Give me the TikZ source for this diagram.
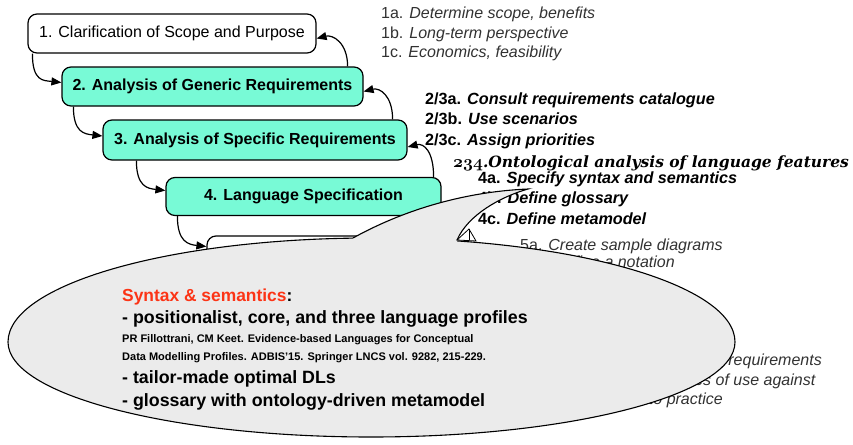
\documentclass[tikz,border=0pt]{standalone}
\usepackage{fontspec}
\setmainfont{Liberation Sans}
\newfontfamily\ontofont{DejaVu Serif}
\usetikzlibrary{arrows.meta,calc}
\definecolor{stepcyan}{RGB}{120,250,214}
\definecolor{bubblegray}{RGB}{235,235,235}
\definecolor{notegray}{RGB}{50,50,50}
\definecolor{alertred}{RGB}{252,52,22}
\tikzset{
  phase/.style={draw=black, line width=1.2pt, rounded corners=9pt, inner sep=0pt,
    fill=white, font=\fontsize{16}{18}\selectfont},
  phasebold/.style={phase, fill=stepcyan, font=\fontsize{16}{18}\selectfont\bfseries},
  flow/.style={line width=1.2pt, -{Triangle[length=10pt,width=8pt]}},
  note/.style={anchor=base west, inner sep=0pt, text=notegray,
    font=\fontsize{16}{18}\selectfont},
  noteend/.style={note, anchor=base east},
  notebold/.style={note, text=black, font=\fontsize{16.2}{18}\selectfont\bfseries},
  bubble/.style={fill=bubblegray},
  bubbleline/.style={draw=black, line width=1.1pt},
  calloutbig/.style={anchor=base west, inner sep=0pt, font=\fontsize{17.8}{20}\selectfont\bfseries},
  calloutsmall/.style={anchor=base west, inner sep=0pt, font=\fontsize{11}{14}\selectfont\bfseries},
}
\begin{document}
\begin{tikzpicture}[x=1pt,y=-1pt]
\useasboundingbox (0,0) rectangle (853,444);

% phases of the method
\node[phase, minimum width=288pt, minimum height=39pt] (b1) at (172,33.5) {1. Clarification of Scope and Purpose};
\node[phasebold, minimum width=301pt, minimum height=39pt] (b2) at (212.5,86.5) {2. Analysis of Generic Requirements};
\node[phasebold, minimum width=304pt, minimum height=40pt] (b3) at (255,140) {3. Analysis of Specific Requirements};
\node[phasebold, minimum width=275pt, minimum height=38pt] (b4) at (303.5,196.5) {4. Language Specification};
\node[phase, minimum width=243pt, minimum height=39pt] (b5) at (328.5,255.5) {};

% forward flow on the left
\draw[flow] ($(b1.south west)+(5,0)$) .. controls +(0,28) and +(-18,-2) .. ($(b2.west)+(0,-4)$);
\draw[flow] ($(b2.south west)+(12,0)$) .. controls +(0,26) and +(-18,-2) .. ($(b3.west)+(0,-4)$);
\draw[flow] ($(b3.south west)+(34,0)$) .. controls +(0,26) and +(-18,-2) .. ($(b4.west)+(0,-6)$);
\draw[flow] ($(b4.south west)+(12,0)$) .. controls +(0,26) and +(-18,-2) .. ($(b5.west)+(0,-9)$);

% feedback on the right
\draw[flow] ($(b2.north east)+(-16,0)$) .. controls +(0,-24) and +(16,-4) .. ($(b1.east)+(0,5)$);
\draw[flow] ($(b3.north east)+(-15,0)$) .. controls +(0,-24) and +(16,-4) .. ($(b2.east)+(0,5)$);
\draw[flow] ($(b4.north east)+(-8,0)$) .. controls +(0,-26) and +(16,-4) .. ($(b3.east)+(0,7)$);

% sub-steps
\node[note] (n1a) at (381,19) {1a. \textit{Determine scope, benefits}};
\node[note] (n1b) at (381,38) {1b. \textit{Long-term perspective}};
\node[note] (n1c) at (381,57) {1c. \textit{Economics, feasibility}};
\node[notebold] (n2a) at (425,104) {2/3a. \textit{Consult requirements catalogue}};
\node[notebold] (n2b) at (425,124.5) {2/3b. \textit{Use scenarios}};
\node[notebold] (n2c) at (425,145) {2/3c. \textit{Assign priorities}};
\node[anchor=base west, inner sep=0pt, font=\fontsize{15.5}{18}\selectfont] (n234) at (453,167)
  {{\usefont{OML}{cmm}{b}{it}\fontsize{17}{18}\selectfont 234}{\ontofont\bfseries\itshape.Ontological analysis of language features}};
\node[notebold] (n4a) at (478,183) {4a. \textit{Specify syntax and semantics}};
\node[notebold] (n4b) at (478,203.5) {4b. \textit{Define glossary}};
\node[notebold] (n4c) at (478,224) {4c. \textit{Define metamodel}};
\node[note] (n5a) at (520,250) {5a. \textit{Create sample diagrams}};
\node[noteend] (n5b) at (675,267) {5b. \textit{Define a notation}};
\node[noteend] (n7a) at (822,365) {7a. \textit{Evaluate against requirements}};
\node[noteend] (n7b) at (816,385) {7b. \textit{Test in cases of use against}};
\node[noteend] (n7c) at (723,404) {7c. \textit{Compare to practice}};

% speech bubble: outline pieces
\def\bubbleoutline{(735,342) .. controls (735,284.6) and (572,238) .. (371,238)
  .. controls (170,238) and (8,284.6) .. (8,342)
  .. controls (8,394.5) and (170,437) .. (371,437)
  .. controls (572,437) and (735,394.5) .. (735,342) -- cycle}
\def\bubblewedge{(353,238) .. controls (400,212) and (460,192) .. (528,189)
  .. controls (500,197) and (468,215) .. (457,240)}
\fill[bubble] \bubblewedge -- (457,262) -- (353,262) -- cycle;
\draw[bubble, bubbleline] \bubbleoutline;
\fill[bubble] \bubblewedge -- (457,262) -- (353,262) -- cycle;
\draw[bubbleline] \bubblewedge;
\draw[line width=0.8pt, fill=white] (457,240) -- (469,229) -- (476,241) -- cycle;
\draw[line width=0.8pt] (469,229) -- (469,240);

% bubble text
\node[calloutbig, font=\fontsize{17.4}{20}\selectfont\bfseries] (c1) at (122,301) {\textcolor{alertred}{Syntax \& semantics}:};
\node[calloutbig] (c2) at (122,323) {- positionalist, core, and three language profiles};
\node[calloutsmall] (c3) at (122,342) {PR Fillottrani, CM Keet. Evidence-based Languages for Conceptual};
\node[calloutsmall] (c4) at (122,360) {Data Modelling Profiles. ADBIS'15. Springer LNCS vol. 9282, 215-229.};
\node[calloutbig] (c5) at (122,383) {- tailor-made optimal DLs};
\node[calloutbig] (c6) at (122,406) {- glossary with ontology-driven metamodel};
\end{tikzpicture}
\end{document}
